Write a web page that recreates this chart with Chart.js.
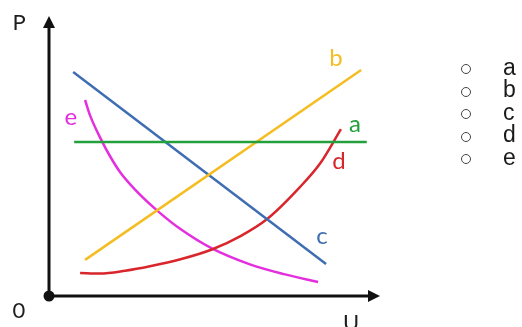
<!DOCTYPE html>
<html>
<head>
<meta charset="utf-8">
<script src="https://cdn.jsdelivr.net/npm/chart.js@4"></script>
<style>
  html, body { margin: 0; padding: 0; background: #fff; }
  #wrap { position: relative; width: 522px; height: 327px; overflow: hidden; }
  canvas { position: absolute; left: 0; top: 0; }
  #choices { position: absolute; left: 0; top: 0; margin: 0; padding: 0; list-style: none;
             font-family: "Liberation Sans", Arial, sans-serif; font-size: 23px; color: #1a1a1a; }
  #choices li { position: absolute; height: 23px; line-height: 23px; white-space: nowrap; }
  #choices .dot { position: absolute; width: 8px; height: 8px; border: 1.3px solid #444; border-radius: 50%; }
  #choices .txt { position: absolute; }
</style>
</head>
<body>
<div id="wrap">
  <canvas id="c" width="522" height="327"></canvas>
  <ul id="choices"></ul>
</div>
<script>
// ---- data (U and P in arbitrary units 0..10) ----
const seriesNames = ['a', 'b', 'c', 'd', 'e'];
const aU = [0.76, 9.6];
const aP = [5.5, 5.5];
const bU = [1.09, 9.43];
const bP = [1.29, 8.07];
const cU = [0.73, 8.37];
const cP = [8.0, 1.14];
const dU = [0.94, 1.54, 2.3, 3.05, 4.0, 4.92, 5.8, 6.59, 7.58, 8.2, 8.82];
const dP = [0.82, 0.80, 0.90, 1.06, 1.32, 1.66, 2.15, 2.75, 3.89, 4.75, 5.96];
const eU = [1.09, 1.24, 1.59, 1.84, 2.15, 2.6, 3.27, 3.96, 4.92, 6.07, 7.1, 8.13];
const eP = [7.0, 6.45, 5.55, 5.0, 4.42, 3.8, 3.05, 2.4, 1.7, 1.13, 0.78, 0.5];
const axisMax = 10;
const axisLabels = ['U', 'P', '0'];

// ---- styles ----
const colors = { a: '#23a03c', b: '#f4bd22', c: '#3e6db2', d: '#d8262c', e: '#e42fde' };
// label anchors for curve names (in data units)
const curveLabelAt = { b: [8.67, 8.5], a: [9.24, 6.14], d: [8.76, 4.82], c: [8.25, 2.14], e: [0.66, 6.39] };

function pts(xs, ys) { return xs.map((x, i) => ({ x: x, y: ys[i] })); }
const seriesData = { a: pts(aU, aP), b: pts(bU, bP), c: pts(cU, cP), d: pts(dU, dP), e: pts(eU, eP) };

const datasets = seriesNames.map(n => ({
  label: n,
  data: seriesData[n],
  showLine: true,
  borderColor: colors[n],
  backgroundColor: colors[n],
  borderWidth: 2.5,
  pointRadius: 0,
  pointHoverRadius: 0,
  cubicInterpolationMode: (n === 'd' || n === 'e') ? 'monotone' : 'default',
  clip: false
}));
datasets.push({
  label: 'origin',
  data: [{ x: 0, y: 0 }],
  showLine: false,
  pointRadius: 5.5,
  pointBackgroundColor: '#111',
  pointBorderWidth: 0,
  clip: false
});

const labelFont = 'Lato, "Open Sans", sans-serif';

const axesPlugin = {
  id: 'arrowAxes',
  beforeDatasetsDraw(chart) {
    const { ctx, scales: { x, y } } = chart;
    const x0 = x.getPixelForValue(0), y0 = y.getPixelForValue(0);
    const xE = x.getPixelForValue(axisMax), yE = y.getPixelForValue(axisMax);
    const L = 12, H = 6;
    ctx.save();
    ctx.strokeStyle = '#111';
    ctx.fillStyle = '#111';
    ctx.lineWidth = 3;
    ctx.beginPath();
    ctx.moveTo(x0, y0); ctx.lineTo(xE - L + 1, y0);
    ctx.moveTo(x0, y0); ctx.lineTo(x0, yE + L - 1);
    ctx.stroke();
    ctx.beginPath();
    ctx.moveTo(xE, y0); ctx.lineTo(xE - L, y0 - H); ctx.lineTo(xE - L, y0 + H); ctx.closePath();
    ctx.fill();
    ctx.beginPath();
    ctx.moveTo(x0, yE); ctx.lineTo(x0 - H, yE + L); ctx.lineTo(x0 + H, yE + L); ctx.closePath();
    ctx.fill();
    ctx.restore();
  },
  afterDatasetsDraw(chart) {
    const { ctx, scales: { x, y } } = chart;
    const x0 = x.getPixelForValue(0), y0 = y.getPixelForValue(0);
    const xE = x.getPixelForValue(axisMax), yE = y.getPixelForValue(axisMax);
    ctx.save();
    ctx.textAlign = 'center';
    ctx.textBaseline = 'middle';
    ctx.font = '22px ' + labelFont;
    ctx.fillStyle = '#1e1e1e';
    ctx.fillText(axisLabels[1], x0 - 30, yE + 7);
    ctx.fillText(axisLabels[2], x0 - 30, y0 + 15);
    ctx.fillText(axisLabels[0], xE - 29, y0 + 27);
    ctx.font = '24px ' + labelFont;
    seriesNames.forEach(n => {
      const p = curveLabelAt[n];
      ctx.fillStyle = colors[n];
      ctx.fillText(n, x.getPixelForValue(p[0]), y.getPixelForValue(p[1]));
    });
    ctx.restore();
  }
};

function draw() {
  new Chart(document.getElementById('c'), {
    type: 'scatter',
    data: { datasets: datasets },
    options: {
      responsive: false,
      animation: false,
      events: [],
      layout: { padding: { left: 49, right: 142, top: 16, bottom: 31 } },
      scales: {
        x: { type: 'linear', min: 0, max: axisMax, display: false },
        y: { type: 'linear', min: 0, max: axisMax, display: false }
      },
      plugins: { legend: { display: false }, tooltip: { enabled: false } }
    },
    plugins: [axesPlugin]
  });
}

// choice list on the right
const list = document.getElementById('choices');
const firstY = 69, pitch = 22.5;
seriesNames.forEach((n, i) => {
  const li = document.createElement('li');
  const cy = firstY + i * pitch;
  li.style.top = (cy - 13.5) + 'px';
  li.style.left = '0px';
  const dot = document.createElement('span');
  dot.className = 'dot';
  dot.style.left = '461px';
  dot.style.top = '8.5px';
  const t = document.createElement('span');
  t.className = 'txt';
  t.style.left = '503px';
  t.textContent = n;
  li.appendChild(dot); li.appendChild(t);
  list.appendChild(li);
});

Promise.all([
  document.fonts.load('22px Lato'),
  document.fonts.load('24px Lato')
]).then(draw, draw);
</script>
</body>
</html>
